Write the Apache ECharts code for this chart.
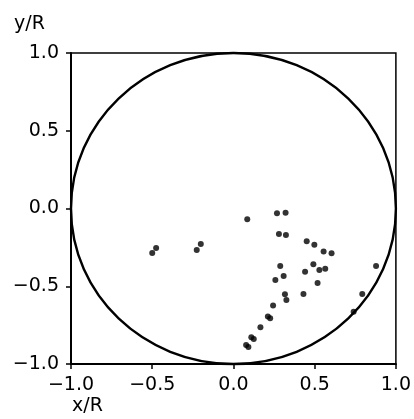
<!DOCTYPE html>
<html>
<head>
<meta charset="utf-8">
<script src="https://cdn.jsdelivr.net/npm/echarts@6/dist/echarts.min.js"></script>
<style>
html,body{margin:0;padding:0;background:#fff;}
#chart{width:414px;height:419px;}
</style>
</head>
<body>
<div id="chart"></div>
<script>
// Axis ticks
var xTicks = [-1.0, -0.5, 0.0, 0.5, 1.0];
var yTicks = [-1.0, -0.5, 0.0, 0.5, 1.0];
// Reference circle: center x, center y, radius (in x/R, y/R units)
var circleCenterRadius = [0, 0, 1];
// Measured positions (x/R)
var pointsX = [-0.500, -0.476, -0.226, -0.201, 0.085, 0.268, 0.321, 0.280, 0.323,
  0.451, 0.498, 0.555, 0.604, 0.288, 0.309, 0.258, 0.441, 0.492, 0.529, 0.565,
  0.518, 0.431, 0.317, 0.326, 0.244, 0.212, 0.226, 0.166, 0.110, 0.125, 0.078, 0.092,
  0.793, 0.878, 0.740];
// Measured positions (y/R)
var pointsY = [-0.286, -0.254, -0.267, -0.228, -0.069, -0.031, -0.027, -0.164, -0.170,
  -0.211, -0.233, -0.276, -0.287, -0.370, -0.434, -0.460, -0.406, -0.359, -0.395, -0.387,
  -0.479, -0.550, -0.551, -0.589, -0.623, -0.695, -0.706, -0.764, -0.828, -0.840, -0.878, -0.890,
  -0.550, -0.370, -0.664];

var pts = pointsX.map(function (x, i) { return [x, pointsY[i]]; });
function fmt(v) { return v.toFixed(1).replace('-', '\u2212'); }
var font = '"DejaVu Sans", "Liberation Sans", Arial, sans-serif';

var chart = echarts.init(document.getElementById('chart'), null, {renderer: 'canvas'});
chart.setOption({
  animation: false,
  backgroundColor: '#fff',
  grid: {left: 71, right: 16, top: 53, bottom: 55, show: true, borderColor: '#000', borderWidth: 1.5, backgroundColor: 'transparent'},
  xAxis: {
    type: 'value', min: xTicks[0], max: xTicks[xTicks.length - 1], interval: 0.5,
    axisLine: {show: true, onZero: false, lineStyle: {color: '#000', width: 2}},
    axisTick: {show: true, length: 5, lineStyle: {color: '#000', width: 1.5}},
    splitLine: {show: false},
    axisLabel: {color: '#000', fontSize: 19, fontFamily: font, margin: 12, formatter: fmt, showMinLabel: true, showMaxLabel: true}
  },
  yAxis: {
    type: 'value', min: yTicks[0], max: yTicks[yTicks.length - 1], interval: 0.5,
    axisLine: {show: true, onZero: false, lineStyle: {color: '#000', width: 2}},
    axisTick: {show: true, length: 5, lineStyle: {color: '#000', width: 1.5}},
    splitLine: {show: false},
    axisLabel: {color: '#000', fontSize: 19, fontFamily: font, margin: 12, formatter: fmt}
  },
  graphic: [
    {type: 'text', left: 14, top: 15, style: {text: 'y/R', fill: '#000', font: '19px ' + font}},
    {type: 'text', left: 72, top: 397, style: {text: 'x/R', fill: '#000', font: '19px ' + font}}
  ],
  series: [
    {
      type: 'custom',
      coordinateSystem: 'cartesian2d',
      data: [circleCenterRadius],
      silent: true,
      renderItem: function (params, api) {
        var c = api.coord([api.value(0), api.value(1)]);
        var s = api.size([api.value(2), api.value(2)]);
        return {
          type: 'ellipse',
          shape: {cx: c[0], cy: c[1], rx: s[0], ry: s[1]},
          style: {fill: 'none', stroke: '#000', lineWidth: 2.4}
        };
      },
      z: 2
    },
    {
      type: 'scatter',
      data: pts,
      symbol: 'circle',
      symbolSize: 6,
      itemStyle: {color: '#000'},
      z: 3
    }
  ]
});
</script>
</body>
</html>
